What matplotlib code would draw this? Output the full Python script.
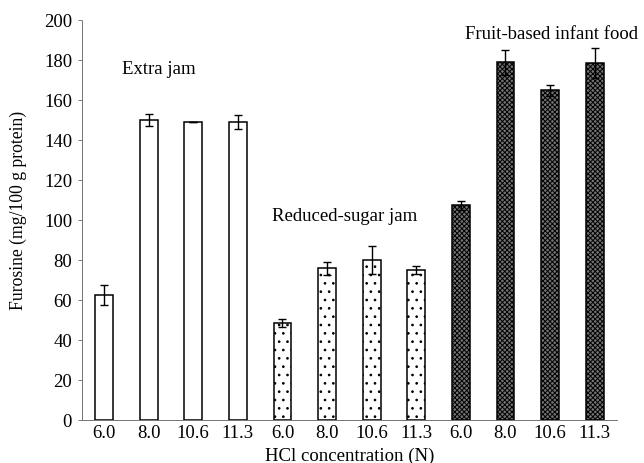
import numpy as np
import matplotlib.pyplot as plt

plt.rcParams['font.family'] = ['Liberation Serif', 'DejaVu Serif']
plt.rcParams['hatch.linewidth'] = 0.7

# Dados
concentracoes = ["6.0", "8.0", "10.6", "11.3"]
grupos = ["Extra jam", "Reduced-sugar jam", "Fruit-based infant food"]
extra_jam = [62.5, 149.7, 149, 149]
extra_jam_err = [5, 3, 0, 3.4]
reduzido = [48.2, 75.7, 80, 75]
reduzido_err = [2, 3.3, 7, 2.1]
infantil = [107.3, 178.7, 164.8, 178.3]
infantil_err = [2.3, 6.2, 2.7, 7.6]

fig = plt.figure(figsize=(6.44, 4.64), dpi=100)
ax = fig.add_axes([0.127, 0.0933, 0.831, 0.862])

x = np.arange(12)
largura = 0.40
estilos = [
    dict(facecolor="white", hatch=None),
    dict(facecolor="white", hatch=".."),
    dict(facecolor="0.45", hatch="xxxxxxx"),
]
series = [(extra_jam, extra_jam_err), (reduzido, reduzido_err), (infantil, infantil_err)]

for g, ((vals, errs), est) in enumerate(zip(series, estilos)):
    pos = x[g * 4:(g + 1) * 4]
    ax.bar(pos, vals, width=largura, edgecolor="black", linewidth=1.1, **est)
    ax.errorbar(pos, vals, yerr=errs, fmt="none", ecolor="black",
                elinewidth=1.0, capsize=3, capthick=1.0)

ax.set_xlim(-0.5, 11.5)
ax.set_ylim(0, 200)
ax.set_yticks(np.arange(0, 201, 20))
ax.set_xticks(x)
ax.set_xticklabels(concentracoes * 3)
ax.tick_params(axis="x", length=0, labelsize=13.5, pad=3)
ax.tick_params(axis="y", length=3, width=0.6, color="0.4", labelsize=13.5, pad=4)

for lado in ["top", "right"]:
    ax.spines[lado].set_visible(False)
for lado in ["left", "bottom"]:
    ax.spines[lado].set_color("0.45")
    ax.spines[lado].set_linewidth(0.7)
    ax.spines[lado].set_linestyle((0, (3, 1)))

ax.set_ylabel("Furosine (mg/100 g protein)", fontsize=12.7)
ax.yaxis.set_label_coords(-0.103, 0.525)
ax.set_xlabel("HCl concentration (N)", fontsize=13.5, labelpad=4)

ax.text(0.41, 175.8, grupos[0], fontsize=13.5, ha="left", va="center")
ax.text(3.77, 102, grupos[1], fontsize=13.5, ha="left", va="center")
ax.text(8.1, 193.3, grupos[2], fontsize=13.5, ha="left", va="center")

plt.savefig("out.png", dpi=100)
